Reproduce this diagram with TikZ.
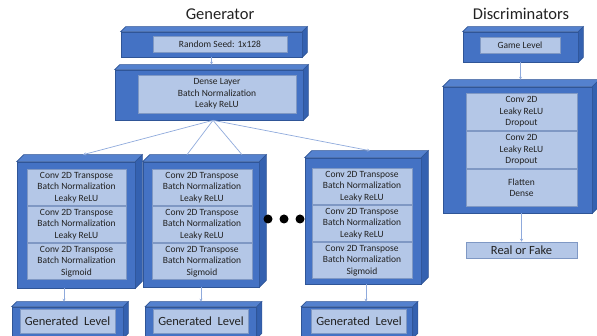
\documentclass[tikz,border=0pt]{standalone}
\usepackage{fontspec}
\setmainfont{Carlito}
\usetikzlibrary{arrows.meta, positioning}

\definecolor{slabblue}{HTML}{4472C4}
\definecolor{slabtop}{HTML}{5481CE}
\definecolor{slabside}{HTML}{3461B0}
\definecolor{slabedge}{HTML}{2F5597}
\definecolor{layerfill}{HTML}{B4C7E7}
\definecolor{layeredge}{HTML}{7F98C4}
\definecolor{flowblue}{HTML}{8FAADC}
\definecolor{inktext}{HTML}{222222}

\tikzset{
  slab/.style={draw=slabedge, fill=slabblue, line width=0.6pt, inner sep=0pt},
  layer/.style={draw=layeredge, fill=layerfill, line width=0.5pt, inner sep=0pt,
    align=center, text=inktext, font=\fontsize{9.5}{11.5}\selectfont},
  bigtext/.style={font=\fontsize{12.5}{14}\selectfont},
  title/.style={anchor=base, text=inktext, font=\fontsize{16.5}{18}\selectfont},
  flow/.style={draw=flowblue, line width=0.7pt, -{Stealth[length=3pt, width=3pt]}},
  fanline/.style={draw=flowblue, line width=0.7pt},
  dot/.style={circle, fill=black, inner sep=0pt, minimum size=9pt},
}

% top and right faces of a slab node, #2 = depth
\newcommand{\slabfaces}[2]{%
  \filldraw[fill=slabtop, draw=slabedge, line width=0.6pt]
    (#1.north west) -- ++(#2,-#2) -- ([shift={(#2,-#2)}]#1.north east)
    -- (#1.north east) -- cycle;
  \filldraw[fill=slabside, draw=slabedge, line width=0.6pt]
    (#1.north east) -- ++(#2,-#2) -- ([shift={(#2,-#2)}]#1.south east)
    -- (#1.south east) -- cycle;
}

\begin{document}
\begin{tikzpicture}[x=1pt, y=-1pt]
    \useasboundingbox (0,0) rectangle (597,336);

    % Titles
    \node[title] (gentitle) at (220,20) {Generator};
    \node[title] (disctitle) at (521,20) {Discriminators};

    % Random seed
    \node[slab, minimum width=181, minimum height=25] (seedslab) at (211.5,44.5) {};
    \slabfaces{seedslab}{5}
    \node[layer, minimum width=134, minimum height=16] (seed) at (220,44) {Random Seed: 1x128};

    % Dense layer
    \node[slab, minimum width=188, minimum height=50] (denseslab) at (209,95) {};
    \slabfaces{denseslab}{5}
    \node[layer, minimum width=158, minimum height=38] (dense) at (217,94)
        {Dense Layer\\Batch Normalization\\Leaky ReLU};
    \coordinate (denseback) at ([yshift=5pt]denseslab.north);
    \coordinate (fan) at ([xshift=4pt]denseslab.south);

    % Generator 1
    \node[slab, minimum width=118, minimum height=126] (conv1) at (76,225) {};
    \slabfaces{conv1}{7}
    \node[layer, minimum width=99, minimum height=36.5] (conv1a) at (76.5,187.5)
        {Conv 2D Transpose\\Batch Normalization\\Leaky ReLU};
    \node[layer, minimum width=99, minimum height=36.5, below=0pt of conv1a] (conv1b)
        {Conv 2D Transpose\\Batch Normalization\\Leaky ReLU};
    \node[layer, minimum width=99, minimum height=36.5, below=0pt of conv1b] (conv1c)
        {Conv 2D Transpose\\Batch Normalization\\Sigmoid};
    \node[slab, minimum width=111, minimum height=31] (gen1slab) at (67.5,322.5) {};
    \slabfaces{gen1slab}{5}
    \node[layer, bigtext, minimum width=95, minimum height=24] (gen1) at (67.5,321) {Generated\ \ Level};

    % Generator 2
    \node[slab, minimum width=116, minimum height=125] (conv2) at (201,224.5) {};
    \slabfaces{conv2}{7}
    \node[layer, minimum width=100, minimum height=36.5] (conv2a) at (202,187.5)
        {Conv 2D Transpose\\Batch Normalization\\Leaky ReLU};
    \node[layer, minimum width=100, minimum height=36.5, below=0pt of conv2a] (conv2b)
        {Conv 2D Transpose\\Batch Normalization\\Leaky ReLU};
    \node[layer, minimum width=100, minimum height=36.5, below=0pt of conv2b] (conv2c)
        {Conv 2D Transpose\\Batch Normalization\\Sigmoid};
    \node[slab, minimum width=111, minimum height=31] (gen2slab) at (201,322.5) {};
    \slabfaces{gen2slab}{5}
    \node[layer, bigtext, minimum width=95, minimum height=24] (gen2) at (201,321) {Generated\ \ Level};

    % Dots
    \foreach \i/\x in {1/268, 2/284, 3/300}
        \node[dot] (dot\i) at (\x,219) {};

    % Generator 3
    \node[slab, minimum width=116, minimum height=126] (conv3) at (363,221) {};
    \slabfaces{conv3}{7}
    \node[layer, minimum width=100, minimum height=36.5] (conv3a) at (362,186.5)
        {Conv 2D Transpose\\Batch Normalization\\Leaky ReLU};
    \node[layer, minimum width=100, minimum height=36.5, below=0pt of conv3a] (conv3b)
        {Conv 2D Transpose\\Batch Normalization\\Leaky ReLU};
    \node[layer, minimum width=100, minimum height=36.5, below=0pt of conv3b] (conv3c)
        {Conv 2D Transpose\\Batch Normalization\\Sigmoid};
    \node[slab, minimum width=111, minimum height=31] (gen3slab) at (357,322.5) {};
    \slabfaces{gen3slab}{5}
    \node[layer, bigtext, minimum width=95, minimum height=24] (gen3) at (359,321) {Generated\ \ Level};

    % Discriminator
    \node[slab, minimum width=115, minimum height=30] (gameslab) at (520.5,47) {};
    \slabfaces{gameslab}{5}
    \node[layer, minimum width=80, minimum height=16] (game) at (520,45) {Game Level};
    \node[slab, minimum width=149, minimum height=126] (discbox) at (517.5,150) {};
    \slabfaces{discbox}{7}
    \node[layer, minimum width=111, minimum height=37.5] (disca) at (521.5,111.75)
        {Conv 2D\\Leaky ReLU\\Dropout};
    \node[layer, minimum width=111, minimum height=37.5, below=0pt of disca] (discb)
        {Conv 2D\\Leaky ReLU\\Dropout};
    \node[layer, minimum width=111, minimum height=37.5, below=0pt of discb] (discc)
        {Flatten\\Dense};
    \node[layer, bigtext, minimum width=111, minimum height=16] (real) at (521.5,250) {Real or Fake};
    \coordinate (discback) at ([yshift=7pt]discbox.north);

    % Connectors
    \draw[flow] (seedslab.south) -- (seedslab.south |- denseback);
    \draw[flow] (fan) -- ([shift={(7,-7)}]conv1.north);
    \draw[fanline] (fan) -- ([shift={(-14,-7)}]conv2.north);
    \draw[fanline] (fan) -- ([shift={(41,-7)}]conv2.north);
    \draw[flow] (fan) -- ([shift={(7,-7)}]conv3.north);
    \draw[flow] ([xshift=-12pt]conv1.south) -- ([shift={(-3.5,-5)}]gen1slab.north);
    \draw[flow] (conv2.south) -- ([yshift=5pt]gen2slab.north);
    \draw[flow] ([xshift=3pt]conv3.south) -- ([shift={(9,-5)}]gen3slab.north);
    \draw[flow] (gameslab.south) -- (gameslab.south |- discback);
    \draw[flow] (real.north |- discbox.south) -- (real.north);
\end{tikzpicture}
\end{document}
